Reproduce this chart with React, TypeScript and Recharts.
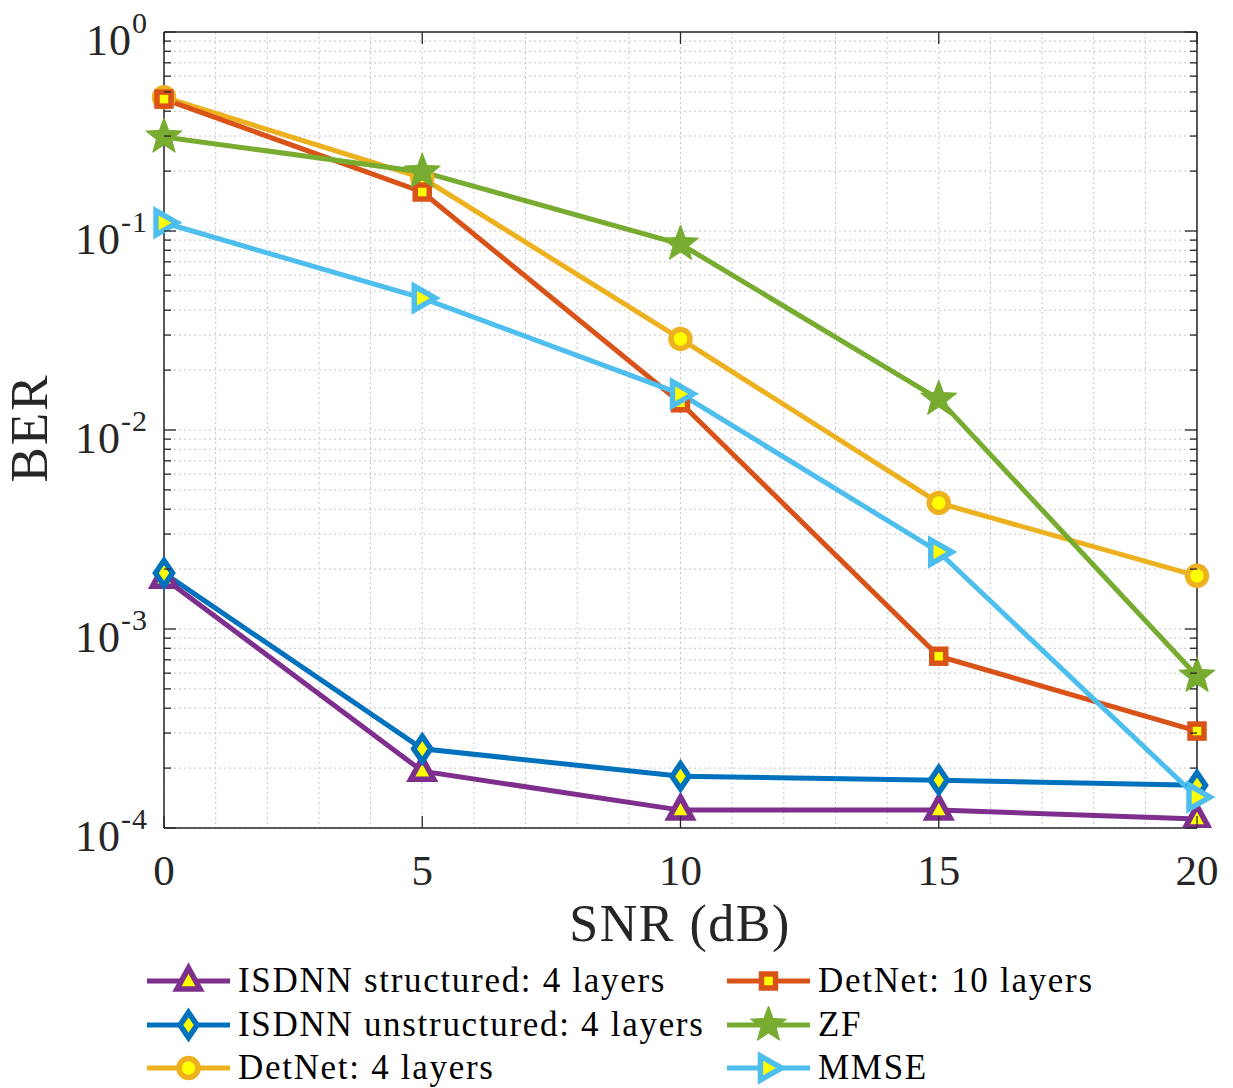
import React from 'react';
import { LineChart, Line, XAxis, YAxis, CartesianGrid } from 'recharts';

// SNR points (dB)
const SNR = [0, 5, 10, 15, 20];

// BER values
const ISDNN_STRUCTURED = [1.8e-3, 1.93e-4, 1.23e-4, 1.23e-4, 1.11e-4];
const ISDNN_UNSTRUCTURED = [1.91e-3, 2.5e-4, 1.82e-4, 1.74e-4, 1.64e-4];
const DETNET_4 = [0.47, 0.185, 0.0287, 4.3e-3, 1.85e-3];
const DETNET_10 = [0.46, 0.157, 0.0137, 7.3e-4, 3.07e-4];
const ZF = [0.297, 0.198, 0.086, 0.0143, 5.8e-4];
const MMSE = [0.11, 0.046, 0.0152, 2.44e-3, 1.43e-4];

// axis ticks
const X_MAJOR = [0, 5, 10, 15, 20];
const X_MINOR = [0, 1, 2, 3, 4, 5, 6, 7, 8, 9, 10, 11, 12, 13, 14, 15, 16, 17, 18, 19, 20];
const Y_MAJOR = [1e-4, 1e-3, 1e-2, 1e-1, 1];
const Y_MINOR_MULT = [2, 3, 4, 5, 6, 7, 8, 9];
const Y_TICKS = Y_MAJOR.slice(0, 4)
    .flatMap(d => [d, ...Y_MINOR_MULT.map(m => m * d)])
    .concat([1]);

const FONT = '"Liberation Serif", serif';
const AXIS = '#262626';
const FACE = '#ffff00';

type MarkerKind = 'triUp' | 'diamond' | 'circle' | 'square' | 'star' | 'triRight';

const SERIES = [
    { key: 'isdnnS', name: 'ISDNN structured: 4 layers', data: ISDNN_STRUCTURED, color: '#7e2f8e', marker: 'triUp' as MarkerKind },
    { key: 'isdnnU', name: 'ISDNN unstructured: 4 layers', data: ISDNN_UNSTRUCTURED, color: '#0072bd', marker: 'diamond' as MarkerKind },
    { key: 'det4', name: 'DetNet: 4 layers', data: DETNET_4, color: '#edb120', marker: 'circle' as MarkerKind },
    { key: 'det10', name: 'DetNet: 10 layers', data: DETNET_10, color: '#d95319', marker: 'square' as MarkerKind },
    { key: 'zf', name: 'ZF', data: ZF, color: '#77ac30', marker: 'star' as MarkerKind },
    { key: 'mmse', name: 'MMSE', data: MMSE, color: '#4dbeee', marker: 'triRight' as MarkerKind },
];

const rows = SNR.map((snr, i) => {
    const row: Record<string, number> = { snr };
    SERIES.forEach(s => { row[s.key] = s.data[i]; });
    return row;
});

const starPoints = (cx: number, cy: number, R: number, r: number) => {
    const pts: string[] = [];
    for (let i = 0; i < 10; i++) {
        const a = -Math.PI / 2 + (i * Math.PI) / 5;
        const rad = i % 2 === 0 ? R : r;
        pts.push(`${cx + rad * Math.cos(a)},${cy + rad * Math.sin(a)}`);
    }
    return pts.join(' ');
};

const renderMarker = (kind: MarkerKind, cx: number, cy: number, color: string) => {
    const common = { stroke: color, strokeWidth: 5.5, fill: FACE, strokeLinejoin: 'miter' as const };
    switch (kind) {
        case 'triUp':
            return <polygon points={`${cx},${cy - 13} ${cx + 11.5},${cy + 8} ${cx - 11.5},${cy + 8}`} {...common} />;
        case 'diamond':
            return <polygon points={`${cx},${cy - 12.5} ${cx + 8.5},${cy} ${cx},${cy + 12.5} ${cx - 8.5},${cy}`} {...common} />;
        case 'circle':
            return <circle cx={cx} cy={cy} r={9.5} {...common} />;
        case 'square':
            return <rect x={cx - 7} y={cy - 7} width={14} height={14} {...common} />;
        case 'star':
            return <polygon points={starPoints(cx, cy, 19, 8)} fill={color} stroke={color} strokeWidth={1} />;
        case 'triRight':
            return <polygon points={`${cx + 13},${cy} ${cx - 8},${cy - 12} ${cx - 8},${cy + 12}`} {...common} />;
    }
};

const isMajorY = (v: number) => Y_MAJOR.some(m => Math.abs(v - m) < m * 1e-6);

const LeftTick = ({ x, y, payload }: any) => {
    const v = payload.value;
    const major = isMajorY(v);
    const exp = Math.round(Math.log10(v));
    return (
        <g>
            <line x1={x} x2={x + (major ? 12 : 7)} y1={y} y2={y} stroke={AXIS} strokeWidth={1.3} />
            {major && (
                <text x={x - 16} y={y + 23} textAnchor="end" fontFamily={FONT} fontSize={44} letterSpacing={1} fill={AXIS}>
                    10<tspan dy={-22} fontSize={30}>{exp}</tspan>
                </text>
            )}
        </g>
    );
};

const RightTick = ({ x, y, payload }: any) => {
    const major = isMajorY(payload.value);
    return <line x1={x} x2={x - (major ? 12 : 7)} y1={y} y2={y} stroke={AXIS} strokeWidth={1.3} />;
};

const BottomTick = ({ x, y, payload }: any) => {
    if (!X_MAJOR.includes(payload.value)) return <g />;
    return (
        <g>
            <line x1={x} x2={x} y1={y} y2={y - 12} stroke={AXIS} strokeWidth={1.3} />
            <text x={x} y={y + 57} textAnchor="middle" fontFamily={FONT} fontSize={43} fill={AXIS}>
                {payload.value}
            </text>
        </g>
    );
};

const TopTick = ({ x, y }: any) => (
    <line x1={x} x2={x} y1={y} y2={y + 12} stroke={AXIS} strokeWidth={1.3} />
);

const LEGEND_ROWS = [981, 1025, 1068];
const LEGEND_COLS = [{ x0: 147, x1: 230, tx: 238 }, { x0: 727, x1: 810, tx: 818 }];

const Overlay = () => (
    <svg width={1233} height={1088} style={{ position: 'absolute', left: 0, top: 0, pointerEvents: 'none' }}>
        <text x={680} y={941} textAnchor="middle" fontFamily={FONT} fontSize={52} letterSpacing={1.5} fill={AXIS}>SNR (dB)</text>
        <text transform="translate(47,428) rotate(-90)" textAnchor="middle" fontFamily={FONT} fontSize={53} letterSpacing={2} fill={AXIS}>BER</text>
        {SERIES.map((s, i) => {
            const col = LEGEND_COLS[i < 3 ? 0 : 1];
            const y = LEGEND_ROWS[i % 3];
            const mx = (col.x0 + col.x1) / 2;
            return (
                <g key={s.key}>
                    <line x1={col.x0} x2={col.x1} y1={y} y2={y} stroke={s.color} strokeWidth={5} />
                    {renderMarker(s.marker, mx, y, s.color)}
                    <text x={col.tx} y={y + 11} fontFamily={FONT} fontSize={35} letterSpacing={1.7} fill="#000">{s.name}</text>
                </g>
            );
        })}
    </svg>
);

export default function App() {
    return (
        <div style={{ position: 'absolute', left: 0, top: 0, width: 1233, height: 1088, background: '#fff' }}>
            <LineChart width={1233} height={900} data={rows} margin={{ top: 31, right: 35, bottom: 12, left: 74 }}>
                <CartesianGrid stroke="#c4c4c4" strokeDasharray="2 3" strokeWidth={1} />
                <XAxis dataKey="snr" type="number" domain={[0, 20]} ticks={X_MINOR} interval={0}
                    height={60} tickSize={0} tickMargin={0} tickLine={false}
                    axisLine={{ stroke: AXIS, strokeWidth: 1.5 }} tick={<BottomTick />} />
                <XAxis xAxisId="top" orientation="top" dataKey="snr" type="number" domain={[0, 20]}
                    ticks={X_MAJOR} interval={0} height={1} tickSize={0} tickMargin={0} tickLine={false}
                    axisLine={{ stroke: AXIS, strokeWidth: 1.5 }} tick={<TopTick />} />
                <YAxis scale="log" type="number" domain={[1e-4, 1]} allowDataOverflow ticks={Y_TICKS}
                    interval={0} width={90} tickSize={0} tickMargin={0} tickLine={false}
                    axisLine={{ stroke: AXIS, strokeWidth: 1.5 }} tick={<LeftTick />} />
                <YAxis yAxisId="right" orientation="right" scale="log" type="number" domain={[1e-4, 1]}
                    allowDataOverflow ticks={Y_TICKS} interval={0} width={1} tickSize={0} tickMargin={0}
                    tickLine={false} axisLine={{ stroke: AXIS, strokeWidth: 1.5 }} tick={<RightTick />} />
                {SERIES.map(s => (
                    <Line
                        key={s.key}
                        dataKey={s.key}
                        name={s.name}
                        stroke={s.color}
                        strokeWidth={5}
                        isAnimationActive={false}
                        dot={(p: any) => <g key={`${s.key}-${p.index}`}>{renderMarker(s.marker, p.cx, p.cy, s.color)}</g>}
                    />
                ))}
            </LineChart>
            <Overlay />
        </div>
    );
}
